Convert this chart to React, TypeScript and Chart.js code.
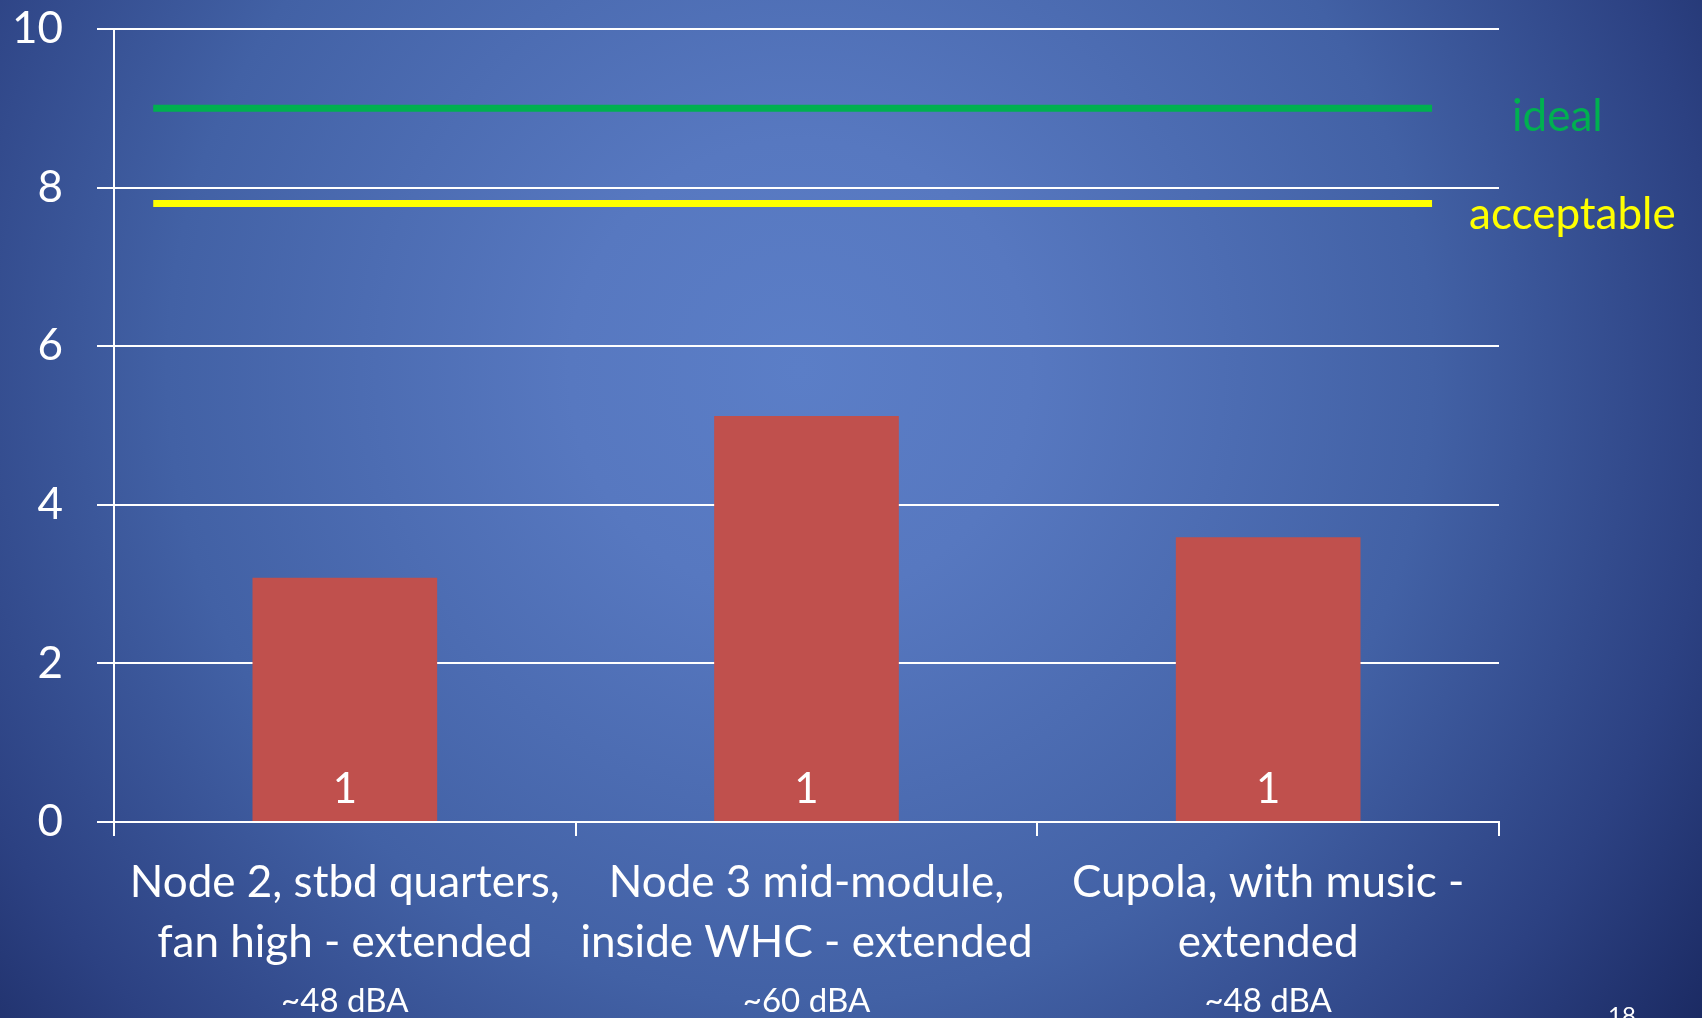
import { useEffect, useRef } from "react";
import { Chart, registerables } from "chart.js";

Chart.register(...registerables);

// Locations measured, with a two-line caption each
const categories: string[][] = [
  ["Node 2, stbd quarters,", "fan high - extended"],
  ["Node 3 mid-module,", "inside WHC - extended"],
  ["Cupola, with music -", "extended"],
];
// Sound level noted under each location
const noiseLevels = ["~48 dBA", "~60 dBA", "~48 dBA"];
// Average rating per location
const ratings = [3.08, 5.12, 3.59];
// Number of responses behind each bar
const sampleCounts = [1, 1, 1];

// Reference thresholds
const idealLevel = 9;
const acceptableLevel = 7.8;
const thresholdStart = 0.085;
const thresholdEnd = 2.855;

// Value axis
const yMin = 0;
const yMax = 10;
const yStep = 2;

const pageNumber = "18";

const FONT = "Lato, 'Open Sans', sans-serif";

const backgroundPlugin = {
  id: "slideBackground",
  beforeDraw(chart: any) {
    const { ctx, width, height } = chart;
    ctx.save();
    const g = ctx.createRadialGradient(800, 370, 0, 800, 370, 1150);
    g.addColorStop(0, "#5b7ec7");
    g.addColorStop(0.2, "#5778c0");
    g.addColorStop(0.55, "#4261a5");
    g.addColorStop(0.8, "#2c4182");
    g.addColorStop(1, "#18265d");
    ctx.fillStyle = g;
    ctx.fillRect(0, 0, width, height);
    ctx.restore();
  },
};

const annotationsPlugin = {
  id: "slideAnnotations",
  afterDatasetsDraw(chart: any) {
    const { ctx } = chart;
    const xScale = chart.scales.x;
    const yScale = chart.scales.y;
    ctx.save();

    // counts inside the bars, near the base
    const bars = chart.getDatasetMeta(0).data;
    ctx.fillStyle = "#ffffff";
    ctx.font = `42px ${FONT}`;
    ctx.textAlign = "center";
    ctx.textBaseline = "middle";
    bars.forEach((bar: any, i: number) => {
      ctx.fillText(String(sampleCounts[i]), bar.x, yScale.getPixelForValue(0) - 33);
    });

    // threshold names beside the line ends
    const names = [
      { ds: 1, text: "ideal", color: "#00b050", dx: 80, dy: 23 },
      { ds: 2, text: "acceptable", color: "#ffff00", dx: 37, dy: 26 },
    ];
    ctx.font = `44px ${FONT}`;
    ctx.textAlign = "left";
    ctx.textBaseline = "alphabetic";
    names.forEach((n) => {
      const pts = chart.getDatasetMeta(n.ds).data;
      const end = pts[pts.length - 1];
      ctx.fillStyle = n.color;
      ctx.fillText(n.text, end.x + n.dx, end.y + n.dy);
    });

    // sound levels under the category captions
    ctx.fillStyle = "#ffffff";
    ctx.font = `33px ${FONT}`;
    ctx.textAlign = "center";
    ctx.textBaseline = "middle";
    noiseLevels.forEach((t, i) => {
      ctx.fillText(t, xScale.getPixelForValue(i), 1001);
    });

    // slide number
    ctx.font = `24px ${FONT}`;
    ctx.textBaseline = "top";
    ctx.fillText(pageNumber, 1622, 1004);

    ctx.restore();
  },
};

export default function App() {
  const canvasRef = useRef<HTMLCanvasElement | null>(null);

  useEffect(() => {
    if (!canvasRef.current) return;
    const chart = new Chart(canvasRef.current, {
      type: "bar",
      data: {
        labels: categories,
        datasets: [
          {
            type: "bar",
            data: ratings,
            backgroundColor: "#c0504d",
            borderWidth: 0,
            grouped: false,
            barPercentage: 0.4,
            categoryPercentage: 1,
            order: 2,
          },
          {
            type: "line",
            xAxisID: "x2",
            data: [
              { x: thresholdStart, y: idealLevel },
              { x: thresholdEnd, y: idealLevel },
            ],
            borderColor: "#00b050",
            borderWidth: 7,
            pointRadius: 0,
            borderCapStyle: "butt",
            order: 1,
          },
          {
            type: "line",
            xAxisID: "x2",
            data: [
              { x: thresholdStart, y: acceptableLevel },
              { x: thresholdEnd, y: acceptableLevel },
            ],
            borderColor: "#ffff00",
            borderWidth: 7,
            pointRadius: 0,
            borderCapStyle: "butt",
            order: 1,
          },
        ] as any,
      },
      options: {
        responsive: false,
        animation: false,
        layout: { padding: { left: 0, right: 203, top: 29, bottom: 0 } },
        plugins: {
          legend: { display: false },
          tooltip: { enabled: false },
        },
        scales: {
          x: {
            type: "category",
            offset: true,
            grid: {
              display: true,
              drawOnChartArea: false,
              drawTicks: true,
              tickLength: 14,
              color: "#ffffff",
              lineWidth: 2,
              offset: true,
            },
            border: { display: true, color: "#ffffff", width: 2 },
            ticks: {
              color: "#ffffff",
              font: { family: FONT, size: 44, lineHeight: 1.36 },
              padding: 17,
              autoSkip: false,
              maxRotation: 0,
              minRotation: 0,
            },
            afterFit(scale: any) {
              scale.height = 196;
              scale.paddingLeft = 0;
              scale.paddingRight = 0;
            },
          },
          x2: {
            type: "linear",
            display: false,
            offset: false,
            grid: { offset: false },
            min: 0,
            max: 3,
          },
          y: {
            min: yMin,
            max: yMax,
            ticks: {
              stepSize: yStep,
              color: "#ffffff",
              font: { family: FONT, size: 44 },
              padding: 34,
            },
            grid: {
              color: "#ffffff",
              lineWidth: 2,
              tickLength: 17,
            },
            border: { display: true, color: "#ffffff", width: 2 },
            afterFit(scale: any) {
              scale.width = 114;
              scale.paddingTop = 0;
              scale.paddingBottom = 0;
            },
          },
        },
      },
      plugins: [backgroundPlugin, annotationsPlugin],
    } as any);
    return () => chart.destroy();
  }, []);

  return (
    <div style={{ position: "fixed", left: 0, top: 0, width: 1702, height: 1018 }}>
      <canvas ref={canvasRef} width={1702} height={1018} />
    </div>
  );
}
